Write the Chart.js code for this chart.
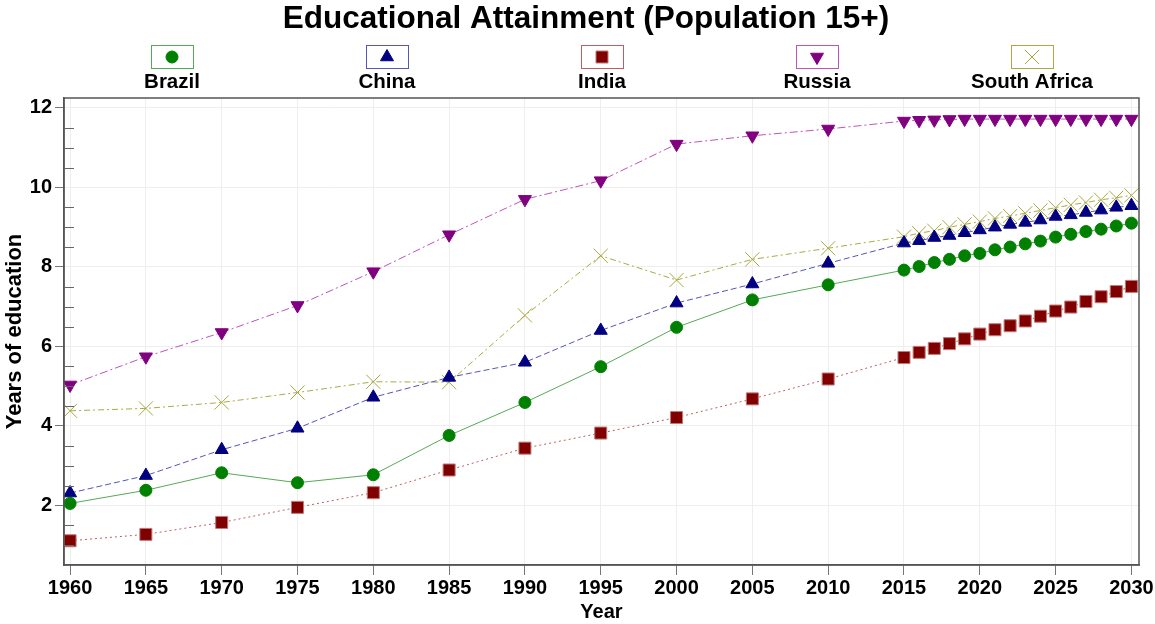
<!DOCTYPE html>
<html>
<head>
<meta charset="utf-8">
<script src="https://cdn.jsdelivr.net/npm/chart.js@4/dist/chart.umd.min.js"></script>
<style>
  html, body { margin: 0; padding: 0; background: #fff; }
  #wrap { width: 1155px; height: 624px; }
</style>
</head>
<body>
<div id="wrap"><canvas id="myChart"></canvas></div>
<script>
// years with data points (5-year steps, then yearly projections)
const years = [1960, 1965, 1970, 1975, 1980, 1985, 1990, 1995, 2000, 2005, 2010,
  2015, 2016, 2017, 2018, 2019, 2020, 2021, 2022, 2023, 2024, 2025, 2026, 2027, 2028, 2029, 2030];

const countries = ['Brazil', 'China', 'India', 'Russia', 'South Africa'];

const brazil = [2.05, 2.38, 2.82, 2.57, 2.77, 3.76, 4.59, 5.49, 6.48, 7.17, 7.55,
  7.92, 8.01, 8.11, 8.19, 8.28, 8.34, 8.43, 8.50, 8.58, 8.65, 8.75, 8.82, 8.89, 8.95, 9.03, 9.10];
const china = [2.31, 2.75, 3.40, 3.94, 4.72, 5.22, 5.60, 6.40, 7.09, 7.57, 8.09,
  8.60, 8.66, 8.74, 8.79, 8.86, 8.93, 9.00, 9.07, 9.12, 9.18, 9.27, 9.31, 9.37, 9.43, 9.50, 9.54];
const india = [1.11, 1.27, 1.57, 1.95, 2.32, 2.89, 3.44, 3.82, 4.21, 4.68, 5.18,
  5.72, 5.85, 5.95, 6.07, 6.19, 6.31, 6.42, 6.52, 6.64, 6.76, 6.89, 6.99, 7.13, 7.25, 7.38, 7.51];
const russia = [5.03, 5.74, 6.35, 7.03, 7.88, 8.81, 9.70, 10.17, 11.09, 11.30, 11.47,
  11.67, 11.69, 11.70, 11.71, 11.72, 11.72, 11.72, 11.72, 11.72, 11.72, 11.72, 11.72, 11.72, 11.72, 11.72, 11.72];
const southAfrica = [4.38, 4.44, 4.59, 4.84, 5.11, 5.10, 6.78, 8.28, 7.67, 8.19, 8.47,
  8.76, 8.85, 8.91, 9.00, 9.07, 9.14, 9.22, 9.28, 9.35, 9.42, 9.49, 9.56, 9.62, 9.69, 9.74, 9.80];

const xTicks = [1960, 1965, 1970, 1975, 1980, 1985, 1990, 1995, 2000, 2005, 2010, 2015, 2020, 2025, 2030];
const yTicks = [2, 4, 6, 8, 10, 12];

const chartTitle = 'Educational Attainment (Population 15+)';

const FONT = "'Liberation Sans', Arial, sans-serif";

const styles = [
  { marker: '#008000', line: '#55aa55', style: 'circle', radius: 6, rot: 0, dash: [] },
  { marker: '#000080', line: '#5555bb', style: 'triangle', radius: 7.5, rot: 0, dash: [6, 3] },
  { marker: '#800000', line: '#bb6060', style: 'rect', radius: 8.5, rot: 0, dash: [2, 3] },
  { marker: '#800080', line: '#bb55bb', style: 'triangle', radius: 7.5, rot: 180, dash: [8, 3, 2, 3] },
  { marker: '#a8a840', line: '#aaaa44', style: 'crossRot', radius: 10, rot: 0, dash: [6, 3, 2, 3] }
];

const values = [brazil, china, india, russia, southAfrica];

const datasets = countries.map((name, i) => {
  const s = styles[i];
  return {
    label: name,
    data: years.map((yr, j) => ({ x: yr, y: values[i][j] })),
    borderColor: s.line,
    borderWidth: 1,
    borderDash: s.dash,
    tension: 0,
    pointStyle: s.style,
    pointRotation: s.rot,
    pointRadius: s.radius,
    pointBackgroundColor: s.marker,
    pointBorderColor: i === 2 ? '#c07a7a' : s.marker,
    pointBorderWidth: 1
  };
});

// box around the plot + minor ticks on y axis
const frame = {
  id: 'frame',
  afterDraw(chart) {
    const { ctx, chartArea: a, scales } = chart;
    ctx.save();
    ctx.strokeStyle = '#555';
    ctx.lineWidth = 1.5;
    ctx.strokeRect(a.left, a.top, a.right - a.left, a.bottom - a.top);
    ctx.strokeStyle = '#666';
    ctx.lineWidth = 1;
    for (let v = 1; v <= 12; v += 0.5) {
      if (v % 2 === 0) continue;
      const y = Math.round(scales.y.getPixelForValue(v)) + 0.5;
      ctx.beginPath();
      ctx.moveTo(a.left, y);
      ctx.lineTo(a.left + 10, y);
      ctx.stroke();
    }
    ctx.restore();
  }
};

// title + legend: box with marker, name underneath
const boxLegend = {
  id: 'boxLegend',
  afterDraw(chart) {
    const ctx = chart.ctx;
    ctx.save();
    ctx.fillStyle = '#000';
    ctx.font = 'bold 31.5px ' + FONT;
    ctx.textAlign = 'center';
    ctx.textBaseline = 'middle';
    ctx.fillText(chartTitle, 586, 19);

    chart.data.datasets.forEach((ds, i) => {
      const cx = 172 + i * 215;
      const s = styles[i];
      ctx.setLineDash([]);
      ctx.strokeStyle = s.line;
      ctx.lineWidth = 1;
      ctx.strokeRect(cx - 21 + 0.5, 45.5, 42, 23);
      ctx.fillStyle = s.marker;
      ctx.strokeStyle = i === 2 ? '#c07a7a' : s.marker;
      Chart.helpers.drawPoint(ctx, {
        pointStyle: s.style, rotation: s.rot, radius: s.radius, borderWidth: 1
      }, cx, 57);
      ctx.fillStyle = '#000';
      ctx.font = 'bold 20.5px ' + FONT;
      ctx.textAlign = 'center';
      ctx.textBaseline = 'middle';
      ctx.fillText(ds.label, cx, 82);
    });
    ctx.restore();
  }
};

const ctx = document.getElementById('myChart').getContext('2d');
let myChart = new Chart(ctx, {
  type: 'line',
  data: { datasets: datasets },
  plugins: [frame, boxLegend],
  options: {
    responsive: true,
    maintainAspectRatio: false,
    animation: false,
    layout: { padding: { left: 0, right: 16, top: 98, bottom: 0 } },
    plugins: {
      legend: { display: false },
      tooltip: { enabled: false },
      title: { display: false }
    },
    scales: {
      x: {
        type: 'linear',
        min: 1959.6,
        max: 2030.5,
        afterBuildTicks: s => { s.ticks = xTicks.map(v => ({ value: v })); },
        afterFit: s => { s.height = 59; },
        ticks: {
          color: '#000',
          font: { family: FONT, size: 20, weight: 'bold' },
          padding: 1,
          maxRotation: 0,
          autoSkip: false,
          callback: v => String(v)
        },
        grid: { color: '#eeeeee', tickColor: '#777', tickLength: 10 },
        border: { color: '#555', width: 1.5 },
        title: {
          display: true,
          text: 'Year',
          color: '#000',
          font: { family: FONT, size: 20, weight: 'bold' },
          padding: { top: 0, bottom: 0 }
        }
      },
      y: {
        min: 0.5,
        max: 12.25,
        afterBuildTicks: s => { s.ticks = yTicks.map(v => ({ value: v })); },
        afterFit: s => { s.width = 64; },
        ticks: {
          color: '#000',
          font: { family: FONT, size: 20, weight: 'bold' },
          padding: 3
        },
        grid: { color: '#eeeeee', tickColor: '#777', tickLength: 9 },
        border: { color: '#555', width: 1.5 },
        title: {
          display: true,
          text: 'Years of education',
          color: '#000',
          font: { family: FONT, size: 22, weight: 'bold' },
          padding: { top: 2, bottom: 0 }
        }
      }
    }
  }
});
</script>
</body>
</html>
